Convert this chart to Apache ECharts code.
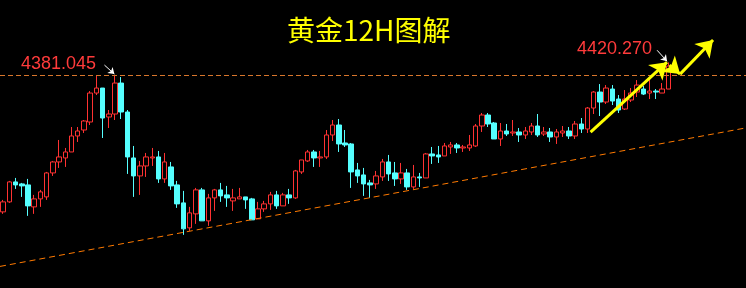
<!DOCTYPE html>
<html>
<head>
<meta charset="utf-8">
<script src="https://cdn.jsdelivr.net/npm/echarts@6/dist/echarts.min.js"></script>
<style>
html,body{margin:0;padding:0;background:#000;}
#chart{width:746px;height:288px;}
</style>
</head>
<body>
<div id="chart"></div>
<script>
// 12H gold candles, order: oldest -> newest
const opens = [3956.3,3987.3,4049.3,4043.1,4040.0,3971.8,3996.6,4002.8,4077.2,4111.3,
4123.7,4142.3,4191.9,4210.5,4235.3,4325.2,4340.7,4250.8,4260.1,4356.2,
4266.3,4123.7,4067.9,4098.9,4123.7,4126.8,4058.6,4095.8,4040.0,3984.2,
3906.7,3950.1,4024.5,3928.4,3999.7,4024.5,4009.0,3990.4,3996.6,4002.8,
3996.6,3934.6,3965.6,3981.1,4009.0,3974.9,4009.0,3999.7,4080.3,4114.4,
4142.3,4123.7,4126.8,4195.0,4226.0,4170.2,4167.1,4086.5,4071.0,4046.2,
4043.1,4064.8,4111.3,4077.2,4058.6,4077.2,4033.8,4064.8,4061.7,4136.1,
4133.0,4129.9,4157.8,4164.0,4154.7,4154.7,4160.9,4222.9,4257.0,4232.2,
4182.6,4207.4,4201.2,4204.3,4195.0,4204.3,4222.9,4198.1,4204.3,4188.8,
4201.2,4207.4,4191.9,4229.1,4213.6,4278.7,4328.3,4297.3,4337.6,4306.6,
4275.6,4303.5,4328.3,4337.6,4325.2,4331.4,4325.2,4337.6];
const closes = [3987.3,4049.3,4040.0,4036.9,3974.9,3996.6,4018.3,4077.2,4111.3,4126.8,
4142.3,4191.9,4207.4,4238.4,4325.2,4340.7,4247.7,4260.1,4356.2,4266.3,
4126.8,4067.9,4098.9,4126.8,4126.8,4058.6,4111.3,4036.9,3981.1,3903.6,
3953.2,4024.5,3928.4,3999.7,4024.5,4005.9,3999.7,3999.7,4002.8,3993.5,
3931.5,3965.6,3981.1,4009.0,3974.9,4009.0,3999.7,4083.4,4117.5,4142.3,
4123.7,4126.8,4195.0,4226.0,4167.1,4164.0,4080.3,4067.9,4043.1,4040.0,
4067.9,4111.3,4074.1,4058.6,4077.2,4033.8,4064.8,4061.7,4136.1,4129.9,
4126.8,4160.9,4164.0,4154.7,4157.8,4164.0,4222.9,4257.0,4229.1,4182.6,
4207.4,4198.1,4204.3,4195.0,4207.4,4222.9,4195.0,4204.3,4188.8,4204.3,
4207.4,4191.9,4229.1,4213.6,4278.7,4328.3,4297.3,4340.7,4300.4,4272.5,
4306.6,4325.2,4350.0,4322.1,4331.4,4328.3,4337.6,4408.9];
const lows = [3950.1,3984.2,4027.6,4002.8,3943.9,3950.1,3971.8,3993.5,4067.9,4092.7,
4095.8,4142.3,4173.3,4201.2,4226.0,4319.0,4185.7,4216.7,4241.5,4244.6,
4074.1,4002.8,4009.0,4064.8,4098.9,4046.2,4046.2,4024.5,3968.7,3885.0,
3897.4,3919.1,3928.4,3912.9,3959.4,3987.3,3971.8,3959.4,3996.6,3965.6,
3931.5,3934.6,3956.3,3962.5,3965.6,3974.9,3981.1,3996.6,4074.1,4111.3,
4095.8,4095.8,4120.6,4176.4,4142.3,4157.8,4030.7,4046.2,4005.9,3999.7,
4027.6,4052.4,4052.4,4036.9,4043.1,4024.5,4027.6,4033.8,4061.7,4105.1,
4108.2,4129.9,4136.1,4139.2,4142.3,4145.4,4157.8,4204.3,4219.8,4182.6,
4160.9,4191.9,4191.9,4173.3,4182.6,4195.0,4188.8,4191.9,4173.3,4167.1,
4188.8,4182.6,4182.6,4201.2,4201.2,4260.1,4253.9,4291.1,4288.0,4263.2,
4272.5,4297.3,4312.8,4319.0,4306.6,4306.6,4325.2,4337.6];
const highs = [3993.5,4052.4,4061.7,4046.2,4058.6,4009.0,4024.5,4080.3,4114.4,4179.5,
4154.7,4219.8,4219.8,4241.5,4331.4,4377.9,4340.7,4272.5,4381.045,4374.8,
4272.5,4160.9,4114.4,4139.2,4154.7,4145.4,4139.2,4111.3,4052.4,4021.4,
3971.8,4030.7,4030.7,4012.1,4027.6,4046.2,4036.9,4027.6,4030.7,4002.8,
3999.7,3987.3,3990.4,4018.3,4021.4,4015.2,4027.6,4086.5,4117.5,4148.5,
4148.5,4145.4,4210.5,4241.5,4244.6,4210.5,4170.2,4108.2,4092.7,4055.5,
4083.4,4120.6,4133.0,4111.3,4108.2,4089.6,4102.0,4077.2,4139.2,4157.8,
4160.9,4170.2,4173.3,4170.2,4164.0,4195.0,4229.1,4263.2,4263.2,4235.3,
4232.2,4229.1,4241.5,4216.7,4219.8,4232.2,4260.1,4219.8,4216.7,4213.6,
4222.9,4219.8,4238.4,4247.7,4281.8,4331.4,4353.1,4350.0,4350.0,4319.0,
4334.5,4340.7,4365.5,4346.9,4368.6,4337.6,4356.2,4420.27];
const slotCount = 120; // candles plus empty space on the right
const categories = Array.from({length: slotCount}, (_, i) => String(i + 1));

const titleText = '黄金12H图解';
const peakLevel = 4381.045;
const peakLabel = '4381.045';
const lastHighLabel = '4420.270';
// support trend line [slot, price]
const trendLine = [[-0.5, 3787], [119.5, 4217]];
// annotation arrows [[slot, price], [slot, price]]
const yellowArrows = [
  [[94.5, 4204], [106.8, 4421]],
  [[107.2, 4412], [108.9, 4384]],
  [[108.9, 4384], [114.2, 4490]]
];
const whiteArrows = [
  [[16.3, 4412], [17.9, 4384]],
  [[105.2, 4458], [106.8, 4424]]
];

const candleData = opens.map((o, i) => [o, closes[i], lows[i], highs[i]]);

const arrowLines = [];
yellowArrows.forEach(a => arrowLines.push([
  {coord: a[0], symbol: 'none', lineStyle: {color: '#ffff00', width: 3, type: 'solid'}},
  {coord: a[1], symbol: 'arrow', symbolSize: 16}
]));
whiteArrows.forEach(a => arrowLines.push([
  {coord: a[0], symbol: 'none', lineStyle: {color: '#ffffff', width: 1, type: 'solid'}},
  {coord: a[1], symbol: 'arrow', symbolSize: 6}
]));

const chart = echarts.init(document.getElementById('chart'), null, {renderer: 'canvas'});
chart.setOption({
  backgroundColor: '#000000',
  animation: false,
  title: {
    text: titleText,
    left: 282, top: 11,
    textStyle: {color: '#ffff00', fontSize: 28, fontWeight: 'normal', fontFamily: 'Noto Sans CJK SC'}
  },
  grid: {left: -2.6, right: 0, top: 0, bottom: 0, containLabel: false},
  xAxis: [
    {type: 'category', data: categories, boundaryGap: true, show: false},
    {type: 'value', min: -0.5, max: 119.5, show: false}
  ],
  yAxis: {type: 'value', min: 3720, max: 4614, show: false, scale: true},
  graphic: [
    {type: 'text', style: {x: 96, y: 64.5, text: peakLabel, align: 'right', verticalAlign: 'middle',
      fill: '#ff3b3b', fontSize: 18, fontFamily: 'Liberation Sans'}},
    {type: 'text', style: {x: 652, y: 49.5, text: lastHighLabel, align: 'right', verticalAlign: 'middle',
      fill: '#ff3b3b', fontSize: 18, fontFamily: 'Liberation Sans'}}
  ],
  series: [
    {
      type: 'candlestick',
      data: candleData,
      barWidth: 5,
      itemStyle: {color: '#000000', color0: '#55ffff', borderColor: '#ff3232', borderColor0: '#55ffff', borderWidth: 1},
      markLine: {
        silent: true, symbol: ['none', 'none'], label: {show: false},
        lineStyle: {color: '#d8762c', type: [5, 3], width: 1},
        data: [{yAxis: peakLevel}]
      }
    },
    {
      type: 'line',
      xAxisIndex: 1,
      data: trendLine,
      showSymbol: false,
      silent: true,
      lineStyle: {color: '#ff7a00', width: 1, type: [6, 4]},
      markLine: {
        silent: true, label: {show: false}, symbol: ['none', 'arrow'],
        data: arrowLines
      }
    }
  ]
});
</script>
</body>
</html>
